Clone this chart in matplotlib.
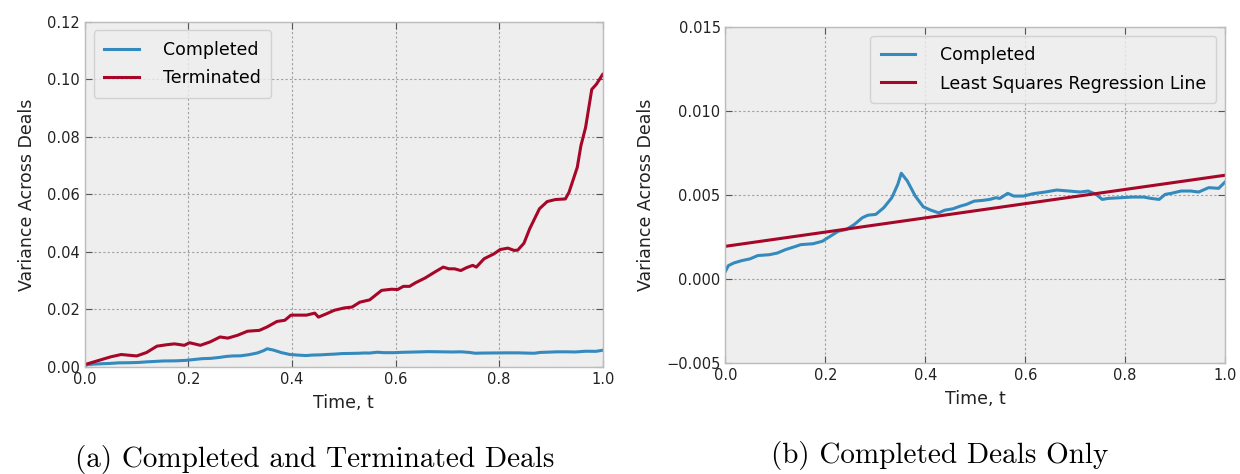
import matplotlib
matplotlib.use("Agg")
import matplotlib.pyplot as plt
import numpy as np

# Completed deals: variance across deals
completed_t = [0.000, 0.006, 0.017, 0.033, 0.049, 0.065, 0.088, 0.104, 0.120, 0.136,
               0.151, 0.175, 0.194, 0.210, 0.226, 0.242, 0.258, 0.274, 0.285, 0.301,
               0.317, 0.333, 0.345, 0.352, 0.364, 0.380, 0.396, 0.411, 0.427, 0.439,
               0.455, 0.470, 0.482, 0.498, 0.514, 0.529, 0.541, 0.549, 0.565, 0.577,
               0.596, 0.616, 0.640, 0.663, 0.687, 0.710, 0.726, 0.742, 0.754, 0.766,
               0.790, 0.813, 0.837, 0.852, 0.868, 0.880, 0.892, 0.912, 0.931, 0.947,
               0.967, 0.987, 1.000]
completed_v = [0.00046, 0.00080, 0.00096, 0.00110, 0.00120, 0.00140, 0.00145, 0.00155,
               0.00175, 0.00190, 0.00205, 0.00210, 0.00225, 0.00255, 0.00285, 0.00295,
               0.00325, 0.00365, 0.00380, 0.00385, 0.00425, 0.00484, 0.00564, 0.00630,
               0.00584, 0.00494, 0.00430, 0.00410, 0.00394, 0.00410, 0.00418, 0.00434,
               0.00444, 0.00464, 0.00468, 0.00474, 0.00484, 0.00480, 0.00510, 0.00494,
               0.00494, 0.00508, 0.00518, 0.00530, 0.00524, 0.00518, 0.00524, 0.00504,
               0.00474, 0.00480, 0.00484, 0.00488, 0.00488, 0.00480, 0.00474, 0.00504,
               0.00510, 0.00524, 0.00524, 0.00518, 0.00544, 0.00540, 0.00578]

# Terminated deals (panel a)
terminated_t = [0.000, 0.050, 0.070, 0.100, 0.119, 0.139, 0.158, 0.173, 0.192, 0.202,
                0.223, 0.242, 0.261, 0.276, 0.295, 0.314, 0.337, 0.352, 0.371, 0.386,
                0.398, 0.428, 0.444, 0.451, 0.467, 0.482, 0.501, 0.516, 0.531, 0.550,
                0.573, 0.592, 0.604, 0.615, 0.627, 0.638, 0.657, 0.676, 0.692, 0.703,
                0.714, 0.726, 0.737, 0.749, 0.756, 0.771, 0.790, 0.802, 0.817, 0.829,
                0.836, 0.848, 0.859, 0.878, 0.893, 0.909, 0.928, 0.935, 0.951, 0.958,
                0.967, 0.979, 0.988, 1.000]
terminated_v = [0.0008, 0.0035, 0.0043, 0.0038, 0.0050, 0.0072, 0.0077, 0.0080, 0.0075,
                0.0084, 0.0075, 0.0087, 0.0104, 0.0100, 0.0110, 0.0124, 0.0127, 0.0139,
                0.0158, 0.0162, 0.0180, 0.0180, 0.0187, 0.0173, 0.0185, 0.0197, 0.0205,
                0.0208, 0.0225, 0.0233, 0.0266, 0.0270, 0.0269, 0.0280, 0.0280, 0.0292,
                0.0309, 0.0330, 0.0347, 0.0341, 0.0341, 0.0335, 0.0345, 0.0353, 0.0347,
                0.0376, 0.0393, 0.0408, 0.0413, 0.0405, 0.0406, 0.0430, 0.0480, 0.0550,
                0.0575, 0.0582, 0.0584, 0.0607, 0.0694, 0.0769, 0.0832, 0.0965, 0.0983,
                0.1017]

# Least squares line endpoints (panel b)
lsq_t = [0.0, 1.0]
lsq_v = [0.00195, 0.00618]

BLUE = "#348ABD"
RED = "#A60628"
BG = "#EEEEEE"


def style_axes(ax):
    ax.set_facecolor(BG)
    for spine in ax.spines.values():
        spine.set_color("#BCBCBC")
        spine.set_linewidth(1.0)
    ax.grid(True, color="#A0A0A0", linestyle=(0, (2, 2)), linewidth=0.8)
    ax.set_axisbelow(True)
    ax.tick_params(direction="in", top=True, right=True, labelsize=10.5,
                   colors="#555555", length=5, width=0.8)
    ax.tick_params(labelcolor="#222222")
    ax.set_xlim(0, 1)
    ax.set_xticks([0.0, 0.2, 0.4, 0.6, 0.8, 1.0])
    ax.set_xlabel("Time, t", fontsize=12.5, color="#222222", labelpad=5)
    ax.set_ylabel("Variance Across Deals", fontsize=12.5, color="#222222", labelpad=8)


def fmt(decimals):
    return matplotlib.ticker.FuncFormatter(
        lambda v, _: f"{v:.{decimals}f}".replace("-", "\u2212"))


fig = plt.figure(figsize=(12.4, 4.74), dpi=100)
ax1 = fig.add_axes([0.0685, 0.226, 0.4175, 0.728])
ax2 = fig.add_axes([0.585, 0.234, 0.403, 0.709])

style_axes(ax1)
ax1.plot(completed_t, completed_v, color=BLUE, linewidth=2.2, label="Completed")
ax1.plot(terminated_t, terminated_v, color=RED, linewidth=2.2, label="Terminated")
ax1.set_ylim(0, 0.12)
ax1.set_yticks(np.arange(0, 0.121, 0.02))
ax1.yaxis.set_major_formatter(fmt(2))
leg1 = ax1.legend(loc="upper left", fontsize=12.5, handlelength=2.0,
                  handletextpad=1.4, borderpad=0.6, labelspacing=0.6)
leg1.get_frame().set_facecolor(BG)
leg1.get_frame().set_edgecolor("#CCCCCC")

style_axes(ax2)
ax2.plot(completed_t, completed_v, color=BLUE, linewidth=2.2, label="Completed")
ax2.plot(lsq_t, lsq_v, color=RED, linewidth=2.2, label="Least Squares Regression Line")
ax2.set_ylim(-0.005, 0.015)
ax2.set_yticks([-0.005, 0.0, 0.005, 0.010, 0.015])
ax2.yaxis.set_major_formatter(fmt(3))
leg2 = ax2.legend(loc="upper right", fontsize=12.5, handlelength=2.0,
                  handletextpad=1.4, borderpad=0.6, labelspacing=0.6)
leg2.get_frame().set_facecolor(BG)
leg2.get_frame().set_edgecolor("#CCCCCC")

fig.text(0.254, 0.03, "(a) Completed and Terminated Deals", family="cmr10",
         fontsize=21, ha="center", va="center")
fig.text(0.758, 0.04, "(b) Completed Deals Only", family="cmr10",
         fontsize=21, ha="center", va="center")

fig.savefig("out.png", dpi=100)
